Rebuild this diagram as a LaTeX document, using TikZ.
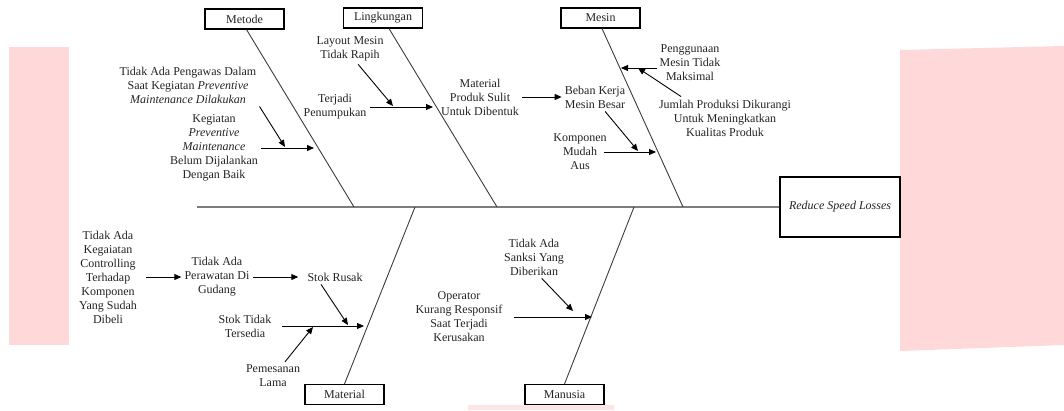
\documentclass[tikz,border=0pt]{standalone}
\usepackage{fontspec}
\setmainfont{Liberation Serif}
\usetikzlibrary{arrows.meta, positioning, calc}
\definecolor{bgPink}{RGB}{255,216,218}
\definecolor{boneGray}{RGB}{60,60,60}
\definecolor{spineGray}{RGB}{125,125,125}
\definecolor{textGray}{RGB}{35,35,35}

\begin{document}
\begin{tikzpicture}[
    x=1pt, y=-1pt,
    every node/.style={font=\fontsize{12}{14}\selectfont, text=textGray},
    catbox/.style={
        draw=black, line width=1.1pt, fill=white,
        minimum width=79pt, minimum height=20pt, inner sep=1pt
    },
    effect/.style={catbox, minimum width=120pt, minimum height=60pt},
    cause/.style={align=center, inner sep=3pt},
    spine/.style={spineGray, line width=2pt},
    bone/.style={boneGray, line width=0.9pt},
    arrow/.style={-{Triangle[length=7pt, width=6pt]}, black, line width=0.9pt}
]
    \useasboundingbox (0,0) rectangle (1064,410);

    % pink blocks behind the diagram
    \fill[bgPink] (9,47) rectangle (69,345);
    \fill[bgPink] (900,50) -- (1064,46) -- (1064,345) -- (900,351) -- cycle;
    \fill[bgPink!70] (468,405) rectangle (614,410);

    % head and categories
    \node[effect] (effect) at (840,207) {\textit{Reduce Speed Losses}};
    \node[catbox] (metode) at (244.5,19) {Metode};
    \node[catbox] (lingkungan) at (383,18) {Lingkungan};
    \node[catbox] (mesin) at (600.5,18) {Mesin};
    \node[catbox] (material) at (344.5,394.5) {Material};
    \node[catbox] (manusia) at (564.5,394.5) {Manusia};

    \coordinate (tail) at (197,207);
    \coordinate (sMetode) at (354,207);
    \coordinate (sLingkungan) at (497,207);
    \coordinate (sMesin) at (683,207);
    \coordinate (sMaterial) at (415,207);
    \coordinate (sManusia) at (634,207);

    \draw[spine] (tail) -- (effect.west);
    \draw[bone] ([xshift=2pt]metode.south) -- (sMetode);
    \draw[bone] ([xshift=6pt]lingkungan.south) -- (sLingkungan);
    \draw[bone] ([xshift=1.5pt]mesin.south) -- (sMesin);
    \draw[bone] (material.north) -- (sMaterial);
    \draw[bone] (manusia.north) -- (sManusia);

    % Metode
    \node[cause] (pengawas) at (188,85) {Tidak Ada Pengawas Dalam\\Saat Kegiatan \textit{Preventive}\\\textit{Maintenance Dilakukan}};
    \node[cause] (kegiatan) at (214,148) {Kegiatan\\\textit{Preventive}\\\textit{Maintenance}\\Belum Dijalankan\\Dengan Baik};
    \coordinate (mt1) at (314,148);
    \coordinate (mt2) at (285,147);
    \draw[arrow] (kegiatan.east) -- (mt1);
    \draw[arrow] (pengawas.south east) -- (mt2);

    % Lingkungan
    \node[cause] (layout) at (350,49) {Layout Mesin\\Tidak Rapih};
    \node[cause] (penumpukan) at (335,107) {Terjadi\\Penumpukan};
    \coordinate (lg1) at (433,107);
    \coordinate (lg2) at (393,106);
    \draw[arrow] (penumpukan.east) -- (lg1);
    \draw[arrow] (layout.-62) -- (lg2);

    % Mesin
    \node[cause] (sulit) at (480,97) {Material\\Produk Sulit\\Untuk Dibentuk};
    \node[cause] (beban) at (595,97) {Beban Kerja\\Mesin Besar};
    \node[cause] (aus) at (580,152) {Komponen\\Mudah\\Aus};
    \node[cause] (penggunaan) at (690,63) {Penggunaan\\Mesin Tidak\\Maksimal};
    \node[cause] (jumlah) at (725,118) {Jumlah Produksi Dikurangi\\Untuk Meningkatkan\\Kualitas Produk};
    \coordinate (ms1) at (656,152);
    \coordinate (ms2) at (638,151);
    \coordinate (ms3) at (621,68);
    \coordinate (ms4) at (638,68);
    \draw[arrow] ([xshift=-6pt]aus.east) -- (ms1);
    \draw[arrow] (sulit.east) -- (beban.west);
    \draw[arrow] (beban.-55) -- (ms2);
    \draw[arrow] ([yshift=-5pt]penggunaan.west) -- (ms3);
    \draw[arrow] (jumlah.154) -- (ms4);

    % Material
    \node[cause] (controlling) at (108,277) {Tidak Ada\\Kegaiatan\\Controlling\\Terhadap\\Komponen\\Yang Sudah\\Dibeli};
    \node[cause] (perawatan) at (217,277) {Tidak Ada\\Perawatan Di\\Gudang};
    \node[cause] (rusak) at (335,277) {Stok Rusak};
    \node[cause] (tersedia) at (245,326) {Stok Tidak\\Tersedia};
    \node[cause] (pemesanan) at (273,376) {Pemesanan\\Lama};
    \coordinate (ml1) at (364,326);
    \coordinate (ml2) at (348,325);
    \coordinate (ml3) at (313,327);
    \draw[arrow] ([xshift=6pt]controlling.east) -- (perawatan.west);
    \draw[arrow] (perawatan.east) -- ([xshift=-6pt]rusak.west);
    \draw[arrow] ([xshift=8pt]tersedia.east) -- (ml1);
    \draw[arrow] ([xshift=-14pt]rusak.south) -- (ml2);
    \draw[arrow] ([xshift=12pt]pemesanan.north) -- (ml3);

    % Manusia
    \node[cause] (sanksi) at (534,257) {Tidak Ada\\Sanksi Yang\\Diberikan};
    \node[cause] (responsif) at (459,317) {Operator\\Kurang Responsif\\Saat Terjadi\\Kerusakan};
    \coordinate (mn1) at (573,311);
    \coordinate (mn2) at (592,317);
    \draw[arrow] (sanksi.-70) -- (mn1);
    \draw[arrow] ([xshift=8pt]responsif.east) -- (mn2);
\end{tikzpicture}
\end{document}
